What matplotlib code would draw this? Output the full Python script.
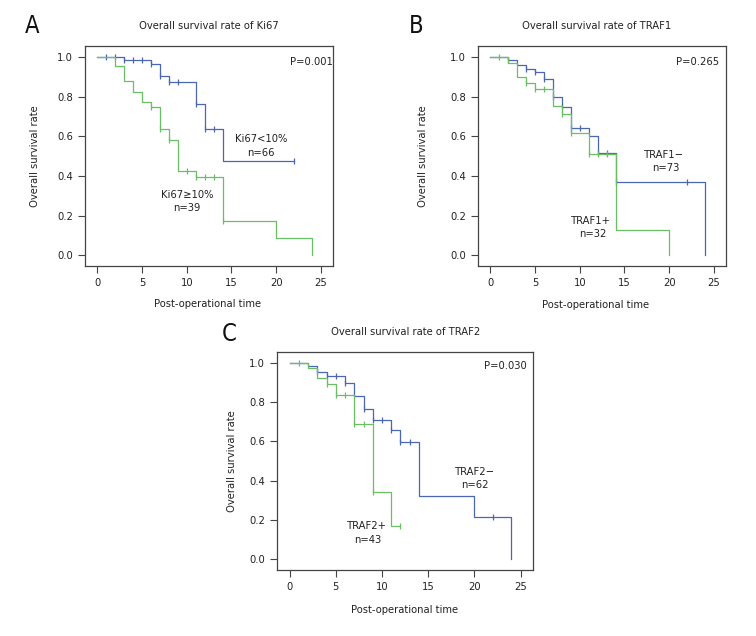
import numpy as np
import matplotlib
matplotlib.use("Agg")
import matplotlib.pyplot as plt

plt.rcParams['font.family'] = ['DejaVu Sans']
plt.rcParams['font.stretch'] = 'condensed'

BLUE = '#4a67b0'
GREEN = '#6abf64'

# ---- data ----
# Panel A: Ki67
a_low_t = [0, 3, 6, 7, 8, 11, 12, 14, 22]
a_low_s = [1.0, 0.985, 0.963, 0.904, 0.872, 0.761, 0.639, 0.477, 0.477]
a_low_cens = [1, 2, 3, 4, 5, 6, 7, 8, 9, 11, 12, 13, 22]
a_high_t = [0, 2, 3, 4, 5, 6, 7, 8, 9, 11, 14, 20, 24]
a_high_s = [1.0, 0.955, 0.877, 0.824, 0.773, 0.746, 0.637, 0.58, 0.427, 0.395, 0.172, 0.087, 0.0]
a_high_cens = [6, 7, 8, 10, 11, 12, 13, 14]

# Panel B: TRAF1
b_neg_t = [0, 2, 3, 4, 5, 6, 7, 8, 9, 11, 12, 14, 24]
b_neg_s = [1.0, 0.985, 0.958, 0.941, 0.926, 0.891, 0.80, 0.746, 0.640, 0.602, 0.518, 0.371, 0.0]
b_neg_cens = [2, 4, 5, 6, 7, 8, 9, 10, 12, 13, 14, 22]
b_pos_t = [0, 2, 3, 4, 5, 7, 8, 9, 11, 14, 20]
b_pos_s = [1.0, 0.97, 0.90, 0.867, 0.837, 0.751, 0.711, 0.615, 0.513, 0.128, 0.0]
b_pos_cens = [1, 4, 5, 6, 8, 9, 11, 12, 13]

# Panel C: TRAF2
c_neg_t = [0, 2, 3, 4, 6, 7, 8, 9, 11, 12, 14, 20, 24]
c_neg_s = [1.0, 0.983, 0.952, 0.933, 0.896, 0.834, 0.764, 0.711, 0.658, 0.596, 0.324, 0.217, 0.0]
c_neg_cens = [3, 4, 5, 6, 8, 9, 10, 11, 12, 13, 22]
c_pos_t = [0, 2, 3, 4, 5, 7, 9, 11, 12]
c_pos_s = [1.0, 0.974, 0.923, 0.894, 0.835, 0.687, 0.344, 0.170, 0.170]
c_pos_cens = [1, 4, 5, 6, 7, 8, 9, 12]

W, H = 756, 636
FS = 8


def fig_rect(left, top, right, bottom):
    return [left / W, 1 - bottom / H, (right - left) / W, (bottom - top) / H]


def km_curve(ax, t, s, cens, color):
    ax.step(t, s, where='post', color=color, lw=0.9)
    t = np.asarray(t)
    s = np.asarray(s)
    cy = [s[np.searchsorted(t, c, side='right') - 1] for c in cens]
    ax.plot(cens, cy, ls='none', marker='|', ms=5, mew=0.9, color=color)


def style_axes(ax):
    ax.set_xlim(-1.37, 26.35)
    ax.set_ylim(-0.055, 1.056)
    ax.set_xticks([0, 5, 10, 15, 20, 25])
    ax.set_yticks([0, 0.2, 0.4, 0.6, 0.8, 1.0])
    ax.set_yticklabels(['0.0', '0.2', '0.4', '0.6', '0.8', '1.0'])
    for sp in ax.spines.values():
        sp.set_color('#444444')
        sp.set_linewidth(0.9)
    ax.tick_params(direction='out', length=5, width=0.8, color='#444444',
                   labelsize=8, pad=3.5, labelcolor='#222222')


def panel(rect, letter, letter_xy, title, title_xy, xlab_xy, ylab_xy, curves, texts):
    ax = fig.add_axes(fig_rect(*rect))
    for t, s, cens, col in curves:
        km_curve(ax, t, s, cens, col)
    style_axes(ax)
    for x, y, txt in texts:
        ax.text(x, y, txt, ha='center', va='center', fontsize=FS, color='#222222')
    fig.text(letter_xy[0] / W, 1 - letter_xy[1] / H, letter, fontsize=17,
             ha='center', va='center', color='#111111')
    fig.text(title_xy[0] / W, 1 - title_xy[1] / H, title, fontsize=FS,
             ha='center', va='center', color='#222222')
    fig.text(xlab_xy[0] / W, 1 - xlab_xy[1] / H, 'Post-operational time', fontsize=FS,
             ha='center', va='center', color='#222222')
    fig.text(ylab_xy[0] / W, 1 - ylab_xy[1] / H, 'Overall survival rate', fontsize=FS,
             ha='center', va='center', rotation=90, color='#222222')
    return ax


fig = plt.figure(figsize=(W / 100, H / 100), dpi=100)

panel((85, 46, 333, 266), 'A', (32, 26), 'Overall survival rate of Ki67', (209, 26),
      (208, 304), (35, 156),
      [(a_low_t, a_low_s, a_low_cens, BLUE), (a_high_t, a_high_s, a_high_cens, GREEN)],
      [(23.9, 0.975, 'P=0.001'),
       (18.3, 0.588, 'Ki67<10%'), (18.3, 0.517, 'n=66'),
       (10.05, 0.303, 'Ki67≥10%'), (10.05, 0.236, 'n=39')])

panel((478, 46, 726, 266), 'B', (416, 26), 'Overall survival rate of TRAF1', (597, 26),
      (596, 305), (423, 156),
      [(b_neg_t, b_neg_s, b_neg_cens, BLUE), (b_pos_t, b_pos_s, b_pos_cens, GREEN)],
      [(23.2, 0.975, 'P=0.265'),
       (19.4, 0.506, 'TRAF1−'), (19.6, 0.439, 'n=73'),
       (11.3, 0.17, 'TRAF1+'), (11.5, 0.106, 'n=32')])

panel((277, 352, 533, 570), 'C', (229, 334), 'Overall survival rate of TRAF2', (406, 332),
      (405, 610), (232, 461),
      [(c_neg_t, c_neg_s, c_neg_cens, BLUE), (c_pos_t, c_pos_s, c_pos_cens, GREEN)],
      [(23.4, 0.983, 'P=0.030'),
       (20.1, 0.443, 'TRAF2−'), (20.1, 0.377, 'n=62'),
       (8.34, 0.168, 'TRAF2+'), (8.45, 0.10, 'n=43')])

fig.savefig('out.png', dpi=100, facecolor='white')
